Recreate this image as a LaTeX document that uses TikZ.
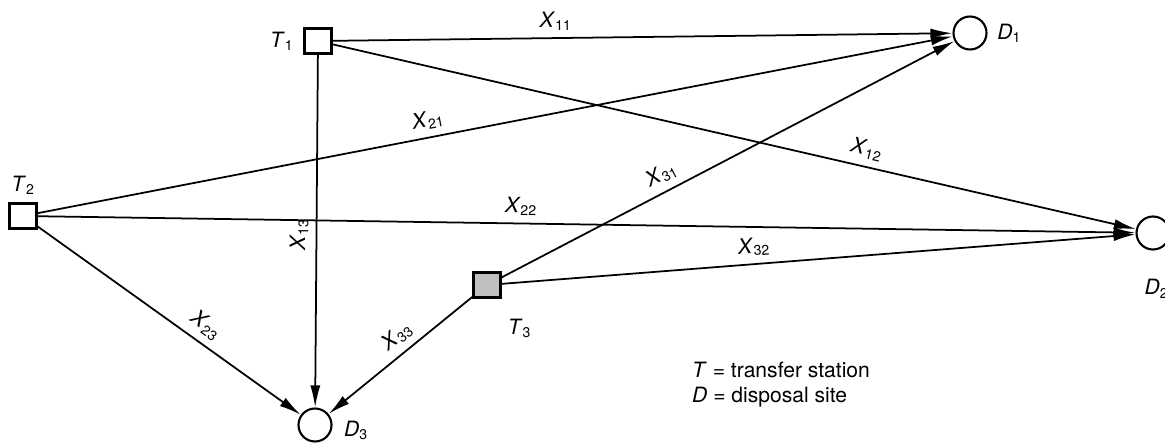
\documentclass[tikz,border=0pt]{standalone}
\usepackage{fontspec}
\setmainfont{TeX Gyre Heros}
\usetikzlibrary{arrows.meta}
\usetikzlibrary{positioning}
\newcommand{\xflow}[1]{\textit{X}\textsubscript{#1}}
\tikzset{
station/.style={draw, line width=1.4pt, minimum width=0.54cm, minimum height=0.5cm, inner sep=0pt},
site/.style={draw, circle, line width=1.2pt, minimum size=0.66cm, inner sep=0pt},
route/.style={line width=1pt, -{Latex[length=4.4mm,width=2mm]}},
flow/.style={sloped, inner sep=4pt}
}
\begin{document}
\begin{tikzpicture}[x=0.02cm, y=-0.02cm, font=\fontsize{12}{14}\selectfont]
\useasboundingbox (0,0) rectangle (1165,445);
%transfer stations
\node[station] (T1) at (318,41) {};
\node[station] (T2) at (23,216) {};
\node[station, fill=black!25] (T3) at (487,285) {};
%disposal sites
\node[site] (D1) at (970,33) {};
\node[site] (D2) at (1153,233) {};
\node[site] (D3) at (315,425) {};

\node[left=2pt of T1] (lT1) {\textit{T}\textsubscript{1}};
\node[above=1pt of T2] (lT2) {\textit{T}\textsubscript{2}};
\node[below right=8pt and 0pt of T3] (lT3) {\textit{T}\textsubscript{3}};
\node[right=3pt of D3, yshift=-3pt] (lD3) {\textit{D}\textsubscript{3}};
\node[right=2pt of D1] (lD1) {\textit{D}\textsubscript{1}};
\node[below=13pt of D2, xshift=2pt] (lD2) {\textit{D}\textsubscript{2}};

\draw[route] (T1) -- (D1) node[flow, pos=0.36, above]{\xflow{11}};
\draw[route] (T1) -- (D2) node[flow, pos=0.66, above]{\xflow{12}};
\draw[route] (T1) -- (D3) node[pos=0.51, rotate=90, anchor=south, inner sep=4pt]{\xflow{13}};
\draw[route] (T2) -- (D1) node[flow, pos=0.43, above]{\xflow{21}};
\draw[route] (T2) -- (D2) node[flow, pos=0.44, above]{\xflow{22}};
\draw[route] (T2) -- (D3) node[flow, pos=0.6, above]{\xflow{23}};
\draw[route] (T3) -- (D1) node[flow, pos=0.37, above]{\xflow{31}};
\draw[route] (T3) -- (D2) node[flow, pos=0.4, above]{\xflow{32}};
\draw[route] (T3) -- (D3) node[flow, pos=0.45, above]{\xflow{33}};

\node[anchor=west] (leg1) at (686,370) {\textit{T} = transfer station};
\node[anchor=west] (leg2) at (686,397) {\textit{D} = disposal site};
\end{tikzpicture}
\end{document}
